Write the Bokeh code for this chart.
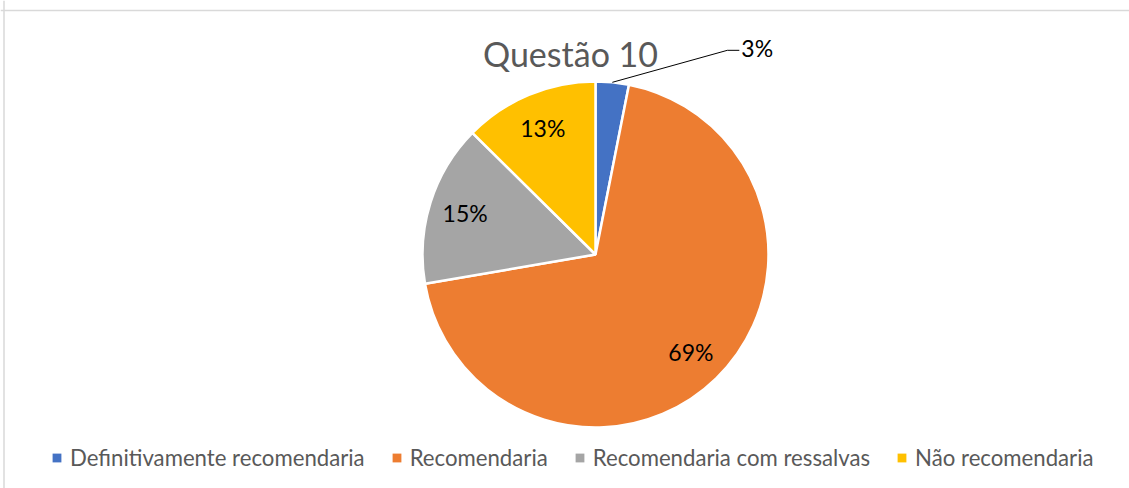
import math
from bokeh.plotting import figure
from bokeh.models import ColumnDataSource, Range1d, Span, Legend, LegendItem
from bokeh.core.properties import value
from bokeh.embed import file_html
from bokeh.resources import INLINE

# ---- data ----
title_text = "Questão 10"
categories = ["Definitivamente recomendaria", "Recomendaria",
              "Recomendaria com ressalvas", "Não recomendaria"]
shares = [3.1, 69.2, 15.1, 12.6]
pct_labels = ["3%", "69%", "15%", "13%"]
colors = ["#4472C4", "#ED7D31", "#A5A5A5", "#FFC000"]

# ---- layout ----
W, H = 1129, 488
cx, cy, r = 595, 234, 173
FONT = "Lato"

p = figure(width=W, height=H, x_range=Range1d(0, W), y_range=Range1d(0, H),
           x_axis_type=None, y_axis_type=None, output_backend="svg",
           toolbar_location=None, min_border=0)
p.outline_line_color = None
p.background_fill_color = "white"
p.border_fill_color = "white"

# chart-area border (top and left visible)
p.add_layout(Span(location=478, dimension="width", line_color="#D9D9D9", line_width=1.5))
p.add_layout(Span(location=3.5, dimension="height", line_color="#D9D9D9", line_width=1.5))

total = sum(shares)
starts, ends, mids = [], [], []
cum = 0.0
for s in shares:
    a0 = math.pi / 2 - 2 * math.pi * cum / total
    a1 = math.pi / 2 - 2 * math.pi * (cum + s) / total
    starts.append(a0)
    ends.append(a1)
    mids.append((a0 + a1) / 2)
    cum += s

src = ColumnDataSource(dict(start=starts, end=ends, color=colors, cat=categories))
p.wedge(x=cx, y=cy, radius=r, start_angle="start", end_angle="end",
        direction="clock", fill_color="color", line_color="white",
        line_width=2.5, source=src)

# inside labels
lx, ly, lt = [], [], []
for i in range(1, len(shares)):
    lx.append(cx + 0.79 * r * math.cos(mids[i]))
    ly.append(cy + 0.79 * r * math.sin(mids[i]))
    lt.append(pct_labels[i])
p.text(x=lx, y=ly, text=lt, text_align="center", text_baseline="middle",
       text_font=value(FONT), text_font_size="23px", text_color="black")

# outside label with leader line for the small slice
sx = cx + r * math.cos(mids[0])
sy = cy + r * math.sin(mids[0])
ex, ey = sx + 115, sy + 32
p.line(x=[sx, ex, ex + 12], y=[sy, ey, ey], line_color="black", line_width=1)
p.text(x=[ex + 14], y=[ey + 2], text=[pct_labels[0]], text_align="left",
       text_baseline="middle", text_font=value(FONT), text_font_size="23px",
       text_color="black")

# title
p.text(x=[570], y=[435], text=[title_text], text_align="center",
       text_baseline="middle", text_font=value(FONT), text_font_size="34px",
       text_color="#595959")

# legend (swatch renderers placed outside the visible range)
items = []
for cat, col in zip(categories, colors):
    rr = p.quad(left=[-50], right=[-40], top=[-40], bottom=[-50],
                fill_color=col, line_color=None)
    items.append(LegendItem(label=cat, renderers=[rr]))
legend = Legend(items=items, orientation="horizontal", location=(51, 17),
                glyph_width=11, glyph_height=11, label_standoff=8, spacing=26,
                padding=0, margin=0, border_line_color=None,
                background_fill_alpha=0, label_text_font=FONT,
                label_text_font_size="22.2px", label_text_color="#595959")
p.add_layout(legend)

open("out.html", "w").write(file_html(p, INLINE))
